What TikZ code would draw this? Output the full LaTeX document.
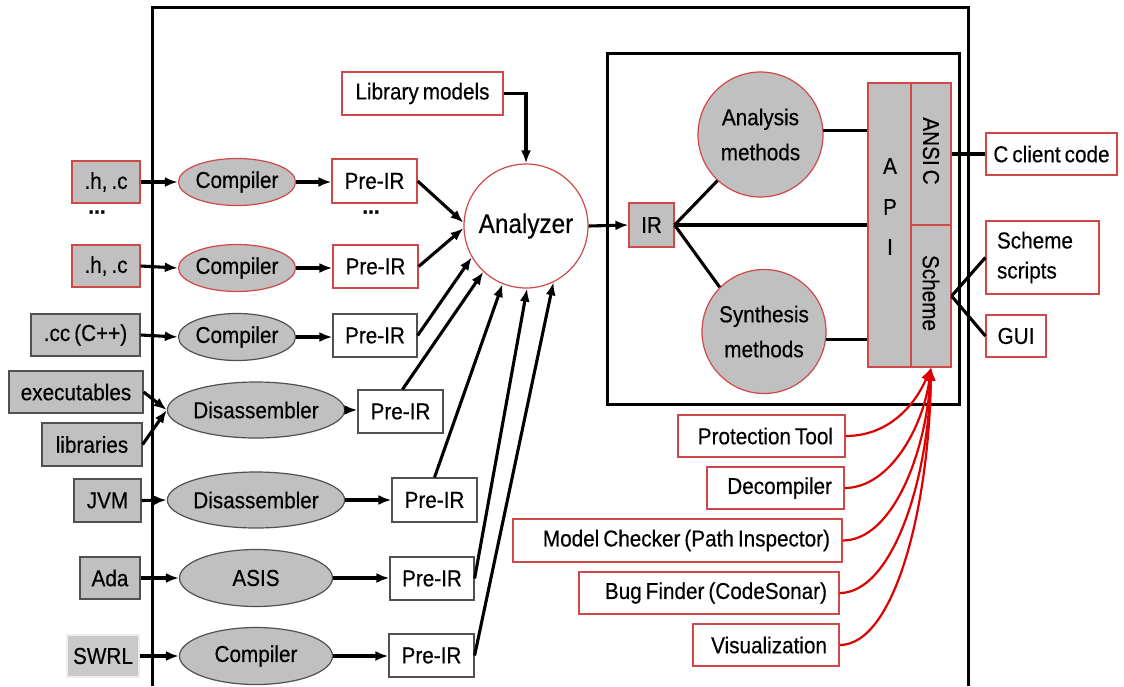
\documentclass[tikz,border=0pt]{standalone}
\usepackage{fontspec}
\setmainfont{Liberation Sans}[FakeStretch=0.9,FakeBold=0.4,WordSpace=0.7]
\usetikzlibrary{arrows.meta,shapes.geometric}
\definecolor{boxgray}{HTML}{C0C0C0}
\definecolor{bred}{HTML}{D04848}
\definecolor{cred}{HTML}{DD0000}
\definecolor{dgray}{HTML}{505050}
\begin{document}
\begin{tikzpicture}[x=1pt,y=-1pt,
  base/.style={inner sep=0pt, font=\fontsize{23}{26}\selectfont, line width=1.2pt},
  sz/.style 2 args={minimum width=#1, minimum height=#2},
  gbox/.style={base, rectangle, fill=boxgray, draw=#1},
  wbox/.style={base, rectangle, fill=white, draw=#1},
  gell/.style={base, ellipse, fill=boxgray, draw=#1},
  rbox/.style={base, rectangle, fill=white, draw=bred},
  rtext/.style={base, anchor=east},
  arr/.style={line width=3.1pt, -{Latex[length=13pt,width=10pt]}},
  conn/.style={line width=3.1pt},
  redarr/.style={line width=2.2pt, draw=cred, -{Latex[length=13pt,width=10pt]}}
]
\useasboundingbox (0,0) rectangle (1124,686);
\fill[white] (0,0) rectangle (1124,686);

% frames
\draw[line width=3pt] (152,686) -- (152,7) -- (968,7) -- (968,686);
\draw[line width=3pt] (607,53) rectangle (959,404);

% left inputs
\node[gbox=bred, sz={68}{42}] (hc1) at (106,182) {.h, .c};
\node[base, font=\fontsize{23}{26}\selectfont\bfseries] (dots1) at (97,212) {...};
\node[gbox=bred, sz={68}{42}] (hc2) at (106,266) {.h, .c};
\node[gbox=dgray, sz={109}{42}] (cc) at (85.5,335) {.cc (C++)};
\node[gbox=dgray, sz={134}{42}] (exe) at (76,392) {executables};
\node[gbox=dgray, sz={100}{43}] (libs) at (92,444.5) {libraries};
\node[gbox=dgray, sz={67}{43}] (jvm) at (107.5,500.5) {JVM};
\node[gbox=dgray, sz={60}{42}] (ada) at (110,578) {Ada};
\node[base, rectangle, fill=boxgray!85, draw=gray!15, sz={72}{42}] (swrl) at (103,656) {SWRL};

% front ends
\node[gell=bred, sz={115}{47}] (c1) at (237,182) {Compiler};
\node[gell=bred, sz={115}{47}] (c2) at (237,268) {Compiler};
\node[gell=dgray, sz={114}{47}] (c3) at (237,337) {Compiler};
\node[gell=dgray, sz={153}{56}] (d1) at (256,410) {Disassembler};
\node[gell=dgray, sz={153}{56}] (d2) at (256,500) {Disassembler};
\node[gell=dgray, sz={153}{57}] (asis) at (256,578) {ASIS};
\node[gell=dgray, sz={153}{57}] (c4) at (256,656) {Compiler};

% Pre-IR
\node[wbox=bred, sz={85}{44}] (p1) at (374.5,181) {Pre-IR};
\node[base, font=\fontsize{23}{26}\selectfont\bfseries] (dots2) at (371,212) {...};
\node[wbox=bred, sz={85}{43}] (p2) at (375.5,266.5) {Pre-IR};
\node[wbox=dgray, sz={84}{43}] (p3) at (375,335.5) {Pre-IR};
\node[wbox=dgray, sz={85}{43}] (p4) at (400.5,411.5) {Pre-IR};
\node[wbox=dgray, sz={85}{44}] (p5) at (434.5,500) {Pre-IR};
\node[wbox=dgray, sz={84}{43}] (p6) at (432,578.5) {Pre-IR};
\node[wbox=dgray, sz={85}{43}] (p7) at (431.5,655.5) {Pre-IR};

% library models and analyzer
\node[wbox=bred, sz={161}{43}] (lib) at (422.5,93.5) {Library models};
\node[base, circle, draw=bred, fill=white, minimum size=124pt, font=\fontsize{27}{30}\selectfont] (ana) at (526,226) {Analyzer};

% inner box
\node[gbox=bred, sz={45}{44}] (ir) at (651.5,225) {IR};
\node[base, circle, fill=boxgray, draw=bred, minimum size=125pt, align=center, font=\fontsize{23}{35}\selectfont] (an) at (760.5,134.5) {Analysis\\methods};
\node[base, circle, fill=boxgray, draw=bred, minimum size=124pt, align=center, font=\fontsize{23}{35}\selectfont] (syn) at (764,331.5) {Synthesis\\methods};
\node[gbox=bred, sz={43}{284}] (api) at (889.5,225) {};
\node[base] (apiA) at (890,166) {A};
\node[base] (apiP) at (890,207) {P};
\node[base] (apiI) at (890,247) {I};
\node[gbox=bred, sz={40}{142}] (ansi) at (931,154) {};
\node[base, rotate=-90] (ansit) at (931,151) {ANSI C};
\node[gbox=bred, sz={40}{142}] (sch) at (931,296) {};
\node[base, rotate=-90] (scht) at (931,293) {Scheme};

% clients
\node[wbox=bred, sz={131}{42}] (ccode) at (1051.5,154) {C client code};
\node[wbox=bred, sz={113}{73}] (ss) at (1042.5,257.5) {};
\node[base, anchor=west, align=left, font=\fontsize{23}{30}\selectfont] (sst) at ([xshift=11pt]ss.west) {Scheme\\scripts};
\node[wbox=bred, sz={60}{42}] (gui) at (1016,336) {GUI};

% tools
\node[rbox, sz={167}{42}] (prot) at (761.5,436) {};
\node[rtext] (protT) at ([xshift=-12pt]prot.east) {Protection Tool};
\node[rbox, sz={137}{42}] (decomp) at (775.5,488) {};
\node[rtext] (decompT) at ([xshift=-12pt]decomp.east) {Decompiler};
\node[rbox, sz={329}{43}] (mc) at (677.5,540.5) {};
\node[rtext] (mcT) at ([xshift=-12pt]mc.east) {Model Checker (Path Inspector)};
\node[rbox, sz={260}{42}] (bug) at (709,593) {};
\node[rtext] (bugT) at ([xshift=-12pt]bug.east) {Bug Finder (CodeSonar)};
\node[rbox, sz={146}{42}] (vis) at (766,645) {};
\node[rtext] (visT) at ([xshift=-12pt]vis.east) {Visualization};

% input arrows
\draw[arr] (hc1.east) -- (c1.west);
\draw[arr] (hc2.east) -- (c2.west);
\draw[arr] (cc.east) -- (c3.west);
\draw[arr] (exe.east) -- (d1.west);
\draw[arr] (libs.east) -- (d1.west);
\draw[arr] (jvm.east) -- (d2.west);
\draw[arr] (ada.east) -- (asis.west);
\draw[arr] (swrl.east) -- (c4.west);

\draw[arr] (c1.east) -- (c1.east -| p1.west);
\draw[arr] (c2.east) -- (c2.east -| p2.west);
\draw[arr] (c3.east) -- (c3.east -| p3.west);
\draw[arr] (d1.east) -- (d1.east -| p4.west);
\draw[arr] (d2.east) -- (d2.east -| p5.west);
\draw[arr] (asis.east) -- (asis.east -| p6.west);
\draw[arr] (c4.east) -- (c4.east -| p7.west);

% into analyzer
\draw[arr] (lib.east) -| (ana.north);
\draw[arr] (p1.east) -- (ana.177);
\draw[arr] (p2.east) -- (ana.182);
\draw[arr] (p3.east) -- (ana.210);
\draw[arr] ([xshift=2pt]p4.north) -- (ana.227);
\draw[arr] (p5.north) -- (ana.248);
\draw[arr] (p6.east) -- (ana.271);
\draw[arr] (p7.east) -- (ana.296);

% analyzer to IR and inside
\draw[arr] (ana.east) -- (ir.west);
\draw[conn] (ir.east) -- (an.227);
\draw[conn] (ir.east) -- (syn.135);
\draw[conn] (ir.east) -- (ir.east -| api.west);
\draw[conn] (an.4) -- (an.4 -| api.west);
\draw[conn] (syn.-7) -- (syn.-7 -| api.west);

% clients
\draw[conn] (ansi.east) -- (ccode.west);
\draw[conn] (sch.east) -- (ss.west);
\draw[conn] (sch.east) -- (gui.west);

% tools
\draw[redarr] (prot.east) .. controls +(45,0) and +(-15,35) .. (sch.south);
\draw[redarr] (decomp.east) .. controls +(45,0) and +(-8,60) .. (sch.south);
\draw[redarr] (mc.east) .. controls +(50,0) and +(-5,85) .. (sch.south);
\draw[redarr] (bug.east) .. controls +(52,0) and +(-3,115) .. (sch.south);
\draw[redarr] (vis.east) .. controls +(55,0) and +(-2,140) .. (sch.south);
\end{tikzpicture}
\end{document}
